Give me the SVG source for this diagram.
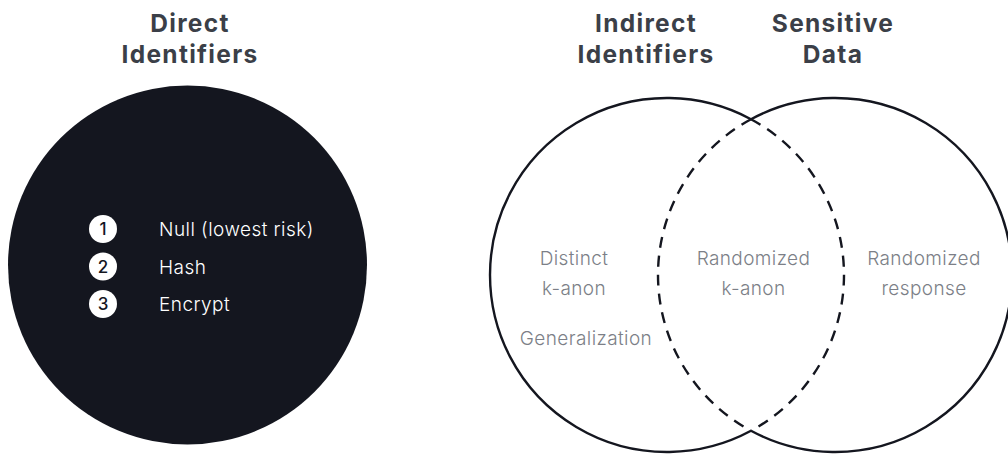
<svg xmlns="http://www.w3.org/2000/svg" width="1008" height="454" viewBox="0 0 1008 454">
<style>
.title{font-family:Inter,"Liberation Sans",sans-serif;font-weight:700;font-size:24.5px;letter-spacing:1.3px;fill:#3b3f48;text-anchor:middle}
.item{font-family:Inter,"Liberation Sans",sans-serif;font-size:19px;font-weight:300;letter-spacing:0.45px;fill:#ffffff}
.num{font-family:Inter,"Liberation Sans",sans-serif;font-size:17px;font-weight:500;fill:#14161f;text-anchor:middle}
.lbl{font-family:Inter,"Liberation Sans",sans-serif;font-size:19px;font-weight:300;letter-spacing:0.4px;fill:#7c7f87;text-anchor:middle}
.solid{fill:none;stroke:#14161f;stroke-width:2.4}
.dash{fill:none;stroke:#14161f;stroke-width:2.4;stroke-dasharray:11 8}
</style>
<rect width="1008" height="454" fill="#ffffff"/>
<g id="direct-identifiers">
  <circle cx="187.5" cy="265" r="179.5" fill="#14161f"/>
  <text class="title" x="190" y="32">Direct</text>
  <text class="title" x="190" y="63">Identifiers</text>
  <circle cx="103" cy="229" r="14" fill="#ffffff"/>
  <text class="num" x="103" y="235">1</text>
  <text class="item" x="159" y="236">Null (lowest risk)</text>
  <circle cx="103" cy="266.5" r="14" fill="#ffffff"/>
  <text class="num" x="103" y="272.5">2</text>
  <text class="item" x="159" y="273.5">Hash</text>
  <circle cx="103" cy="304" r="14" fill="#ffffff"/>
  <text class="num" x="103" y="310">3</text>
  <text class="item" x="159" y="311">Encrypt</text>
</g>
<g id="indirect-identifiers">
  <path class="solid" d="M751 119.2 A177 177 0 1 0 751 430.8"/>
  <text class="title" x="646" y="32">Indirect</text>
  <text class="title" x="646" y="63">Identifiers</text>
  <text class="lbl" x="574" y="265">Distinct</text>
  <text class="lbl" x="574" y="295">k-anon</text>
  <text class="lbl" x="586" y="345">Generalization</text>
</g>
<g id="sensitive-data">
  <path class="solid" d="M751 119.2 A177 177 0 1 1 751 430.8"/>
  <text class="title" x="833" y="32">Sensitive</text>
  <text class="title" x="833" y="63">Data</text>
  <text class="lbl" x="924" y="265">Randomized</text>
  <text class="lbl" x="924" y="295">response</text>
</g>
<g id="overlap">
  <text class="lbl" x="753.5" y="265">Randomized</text>
  <text class="lbl" x="753.5" y="295">k-anon</text>
</g>
<g id="connectors">
  <path class="dash" d="M751 119.2 A177 177 0 0 1 751 430.8"/>
  <path class="dash" d="M751 119.2 A177 177 0 0 0 751 430.8"/>
</g>
</svg>
